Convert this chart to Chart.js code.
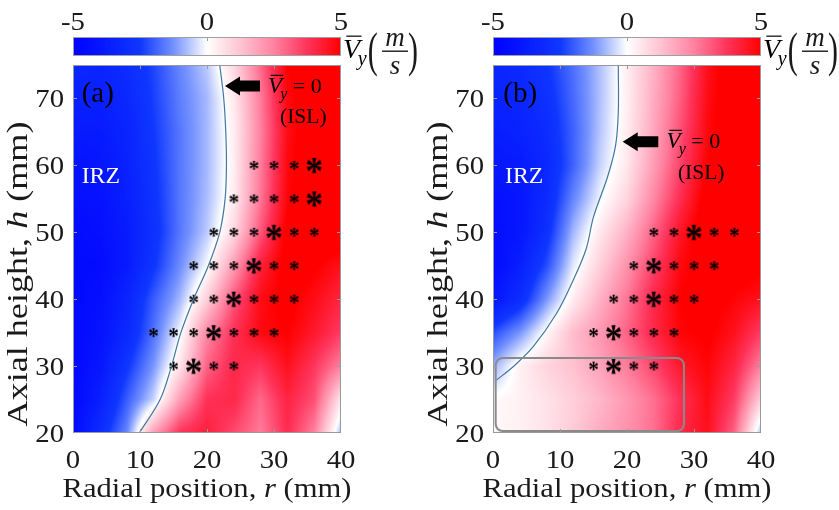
<!DOCTYPE html>
<html><head><meta charset="utf-8">
<script src="https://cdn.jsdelivr.net/npm/chart.js@4.4.1/dist/chart.umd.min.js"></script>
<style>
html,body{margin:0;padding:0;background:#fff;}
#wrap{position:relative;width:839px;height:510px;overflow:hidden;}
canvas{position:absolute;top:0;}
#ca{left:0}
#cb{left:420px}
</style></head><body>
<div id="wrap"><canvas id="ca" width="420" height="510"></canvas><canvas id="cb" width="419" height="510"></canvas></div>
<script>
// ---------- data ----------
const rGrid = [0,4,8,12,16,20,24,28,32,36,40];          // radial position r (mm)
const hGrid = [20,25,30,35,40,45,50,55,60,65,70,75];    // axial height h (mm)
// mean axial velocity Vy (m/s), rows follow hGrid, columns follow rGrid
const vyA = [
 [-4.5,-3.0,-1.4, 2.0, 3.8, 4.2, 3.4, 2.6, 3.9, 2.5,-0.8],
 [-4.6,-3.6,-2.0,-0.5, 2.0, 3.8, 4.0, 2.9, 4.1, 3.3, 0.5],
 [-4.6,-4.0,-2.6,-1.2, 0.6, 3.0, 4.0, 3.7, 4.6, 3.7, 2.5],
 [-4.6,-4.2,-3.2,-1.7,-0.05,2.4, 3.8, 4.8, 5.0, 4.4, 3.6],
 [-4.6,-4.3,-3.4,-2.0,-0.8, 1.0, 3.2, 4.7, 5.2, 4.7, 4.1],
 [-4.5,-4.5,-3.8,-2.6,-1.3,-0.05,2.0, 4.2, 5.3, 5.1, 4.6],
 [-4.5,-4.3,-3.8,-2.8,-1.6,-0.6, 0.8, 3.2, 5.2, 5.5, 5.5],
 [-4.3,-4.2,-3.6,-2.7,-1.6,-0.75,0.4, 2.7, 4.9, 5.5, 5.5],
 [-4.2,-4.0,-3.5,-2.6,-1.6,-0.8, 0.35,2.6, 4.8, 5.5, 5.5],
 [-3.8,-3.8,-3.4,-2.5,-1.6,-0.8, 0.35,2.5, 4.7, 5.5, 5.5],
 [-3.5,-3.6,-3.2,-2.4,-1.5,-0.8, 0.45,2.6, 4.8, 5.5, 5.5],
 [-3.2,-3.3,-3.0,-2.3,-1.4,-0.6, 0.8, 2.9, 5.0, 5.5, 5.5]
];
const vyB = [
 [ 0.15, 0.3, 0.6, 1.1, 1.7, 2.2, 2.8, 4.0, 4.6, 3.0,-0.8],
 [ 0.1, 0.3, 0.6, 1.0, 1.5, 2.1, 2.8, 3.8, 4.7, 3.6, 1.0],
 [-0.9, 0.3, 0.9, 1.3, 1.9, 2.6, 3.4, 4.4, 4.9, 4.1, 2.5],
 [-2.2,-1.2, 0.15,1.4, 2.1, 3.0, 4.0, 4.9, 5.1, 4.6, 3.6],
 [-4.0,-3.0,-1.2, 0.4, 1.6, 2.7, 4.0, 5.0, 5.3, 4.9, 4.6],
 [-4.5,-3.6,-2.2,-0.25,1.0, 2.2, 3.5, 4.8, 5.4, 5.4, 5.1],
 [-4.4,-4.0,-2.8,-0.8, 0.5, 1.6, 3.0, 4.5, 5.5, 5.5, 5.5],
 [-4.3,-4.0,-3.1,-1.4,-0.1, 0.9, 2.4, 3.9, 5.3, 5.5, 5.5],
 [-4.0,-3.8,-3.2,-1.9,-0.5, 0.5, 2.0, 3.5, 5.0, 5.5, 5.5],
 [-3.7,-3.5,-3.0,-1.9,-0.65,0.4, 1.8, 3.3, 4.8, 5.5, 5.5],
 [-3.5,-3.3,-2.8,-1.8,-0.7, 0.35,1.7, 3.1, 4.7, 5.5, 5.5],
 [-3.3,-3.1,-2.6,-1.7,-0.7, 0.35,1.6, 3.0, 4.6, 5.5, 5.5]
];
// ISL contour (Vy = 0)
const islA_r = [9.9,13,14.7,16.1,18,20.2,21.9,22.7,22.9,22.8,22.5,21.9];
const islA_h = [20,25,30,35,40,45,50,55,60,65,70,75];
const islB_r = [0.5,3,6,9.5,12,13.9,15,17.1,18.3,18.7,18.7];
const islB_h = [27.9,29.9,32.9,37.9,42.9,47.5,52.3,58.3,63,68,75];
// measurement points (asterisks)
const smallA_r = [27,30,33, 24,27,30,33, 21,24,27,33,36, 18,21,24,30,33, 18,21,27,30,33, 12,15,18,24,27,30, 15,21,24];
const smallA_h = [60,60,60, 55,55,55,55, 50,50,50,50,50, 45,45,45,45,45, 40,40,40,40,40, 35,35,35,35,35,35, 30,30,30];
const bigA_r = [36,36,30,27,24,21,18];
const bigA_h = [60,55,50,45,40,35,30];
const smallB_r = [24,27,33,36, 21,27,30,33, 18,21,27,30, 15,21,24,27, 15,21,24];
const smallB_h = [50,50,50,50, 45,45,45,45, 40,40,40,40, 35,35,35,35, 30,30,30];
const bigB_r = [30,24,24,18,18];
const bigB_h = [50,45,40,35,30];
// tick labels
const xTickVals = [0,10,20,30,40];
const yTickVals = [20,30,40,50,60,70];
const cbTickVals = [-5,0,5];
// colormap stops
const cmapV = [-5,-2.5,-1.25,0,1.25,2.5,3.75,5];
const cmapC = [[0,0,255],[15,55,255],[115,145,255],[255,255,255],[255,195,210],[255,130,160],[255,50,90],[255,0,0]];

// ---------- helpers ----------
const F = '"Liberation Serif","Times New Roman",serif';
function cmap(v){
  if(v<=cmapV[0]) return cmapC[0];
  if(v>=cmapV[cmapV.length-1]) return cmapC[cmapC.length-1];
  let i=0; while(v>cmapV[i+1]) i++;
  const t=(v-cmapV[i])/(cmapV[i+1]-cmapV[i]);
  const a=cmapC[i], b=cmapC[i+1];
  return [a[0]+(b[0]-a[0])*t, a[1]+(b[1]-a[1])*t, a[2]+(b[2]-a[2])*t];
}
function locate(arr,v){
  let i=0; while(i<arr.length-2 && v>arr[i+1]) i++;
  let t=(v-arr[i])/(arr[i+1]-arr[i]); t=Math.max(0,Math.min(1,t));
  return [i,t];
}
function interp(grid,r,h){
  const [i,tx]=locate(rGrid,r), [j,ty]=locate(hGrid,h);
  const a=grid[j][i]*(1-tx)+grid[j][i+1]*tx;
  const b=grid[j+1][i]*(1-tx)+grid[j+1][i+1]*tx;
  return a*(1-ty)+b*ty;
}
function drawSegs(ctx, parts, x, y, align, sx){
  ctx.save();
  let w=0; parts.forEach(p=>{ctx.font=p[1]; w+=ctx.measureText(p[0]).width;});
  ctx.translate(x,y); ctx.scale(sx||1,1);
  let x0 = align==='center' ? -w/2 : (align==='right' ? -w : 0);
  ctx.textAlign='left'; ctx.textBaseline='alphabetic';
  parts.forEach(p=>{ctx.font=p[1]; ctx.fillText(p[0],x0,0); x0+=ctx.measureText(p[0]).width;});
  ctx.restore();
  return w*(sx||1);
}
function fitScale(ctx, parts, target){
  let w=0; parts.forEach(p=>{ctx.font=p[1]; w+=ctx.measureText(p[0]).width;});
  return target/w;
}
function makeStar(w,h){
  const c=document.createElement('canvas'); c.width=Math.ceil(w)+4; c.height=Math.ceil(h)+4;
  const g=c.getContext('2d');
  g.font='bold 100px '+F;
  const m=g.measureText('*');
  const iw=m.actualBoundingBoxLeft+m.actualBoundingBoxRight;
  const ih=m.actualBoundingBoxAscent+m.actualBoundingBoxDescent;
  g.translate(2,2); g.scale(w/iw,h/ih);
  g.fillStyle='#000';
  g.fillText('*',m.actualBoundingBoxLeft,m.actualBoundingBoxAscent);
  return c;
}
const starSmall = makeStar(9,9);
const starBig = makeStar(15,15);

function vLabel(ctx,x,y,fs){
  ctx.save(); ctx.fillStyle='#000';
  ctx.font='italic '+fs+'px '+F;
  const wv=ctx.measureText('V').width;
  ctx.fillText('V',x,y);
  ctx.strokeStyle='#000'; ctx.lineWidth=1.2;
  ctx.beginPath(); ctx.moveTo(x+fs*0.12,y-fs*0.78); ctx.lineTo(x+wv+fs*0.05,y-fs*0.78); ctx.stroke();
  ctx.font='italic '+Math.round(fs*0.7)+'px '+F;
  const wy=ctx.measureText('y').width;
  ctx.fillText('y',x+wv-fs*0.08,y+fs*0.25);
  ctx.restore();
  return x+wv-fs*0.08+wy;
}

function panelPlugin(grid, ann){
  return {
    id:'panel',
    beforeDatasetsDraw(chart){
      const ctx=chart.ctx, a=chart.chartArea, xs=chart.scales.x, ys=chart.scales.y;
      const L=Math.round(a.left), T=Math.round(a.top), W=Math.round(a.right)-L, H=Math.round(a.bottom)-T;
      const off=document.createElement('canvas'); off.width=W; off.height=H;
      const g=off.getContext('2d'); const im=g.createImageData(W,H);
      for(let j=0;j<H;j++){
        const h=ys.getValueForPixel(T+j+0.5);
        for(let i=0;i<W;i++){
          const r=xs.getValueForPixel(L+i+0.5);
          const c=cmap(interp(grid,r,h)); const k=(j*W+i)*4;
          im.data[k]=c[0]; im.data[k+1]=c[1]; im.data[k+2]=c[2]; im.data[k+3]=255;
        }
      }
      g.putImageData(im,0,0); ctx.drawImage(off,L,T);
      // colorbar
      const cb=chart.scales.cb;
      const cL=Math.round(cb.getPixelForValue(-5)), cR=Math.round(cb.getPixelForValue(5));
      for(let x=cL;x<cR;x++){
        const c=cmap(cb.getValueForPixel(x+0.5));
        ctx.fillStyle='rgb('+c.map(Math.round).join(',')+')';
        ctx.fillRect(x,37,1,19);
      }
      ctx.strokeStyle='#a0a0a0'; ctx.lineWidth=1;
      ctx.strokeRect(cL+0.5,37.5,cR-cL-1,18);
      const z=Math.round(cb.getPixelForValue(0))+0.5;
      ctx.beginPath(); ctx.moveTo(z,38); ctx.lineTo(z,41); ctx.stroke();
    },
    afterDatasetsDraw(chart){
      const ctx=chart.ctx, a=chart.chartArea, xs=chart.scales.x, ys=chart.scales.y, cb=chart.scales.cb;
      const px=v=>xs.getPixelForValue(v), py=v=>ys.getPixelForValue(v);
      if(ann.box){
        const x1=px(ann.box.r[0]), x2=px(ann.box.r[1]), y1=py(ann.box.h[1]), y2=py(ann.box.h[0]);
        ctx.save(); ctx.strokeStyle='#8a8a8a'; ctx.lineWidth=2;
        ctx.beginPath(); ctx.roundRect(x1,y1,x2-x1,y2-y1,7); ctx.stroke(); ctx.restore();
      }
      // frame
      ctx.save();
      ctx.strokeStyle='#9a9a9a'; ctx.lineWidth=1;
      ctx.strokeRect(Math.round(a.left)+0.5,Math.round(a.top)+0.5,Math.round(a.right-a.left)-1,Math.round(a.bottom-a.top)-1);
      ctx.beginPath();
      xTickVals.forEach(v=>{ if(v===xs.min||v===xs.max) return; const x=Math.round(px(v))+0.5;
        ctx.moveTo(x,a.bottom); ctx.lineTo(x,a.bottom-4); ctx.moveTo(x,a.top); ctx.lineTo(x,a.top+4); });
      yTickVals.forEach(v=>{ if(v===ys.min||v===ys.max) return; const y=Math.round(py(v))+0.5;
        ctx.moveTo(a.left,y); ctx.lineTo(a.left+4,y); ctx.moveTo(a.right,y); ctx.lineTo(a.right-4,y); });
      ctx.stroke();
      ctx.restore();
      // tick labels
      ctx.save(); ctx.fillStyle='#1a1a1a';
      const tf='25px '+F;
      xTickVals.forEach(v=>drawSegs(ctx,[[String(v),tf]],px(v),468,'center',1.15));
      yTickVals.forEach(v=>drawSegs(ctx,[[String(v),tf]],a.left-9,py(v)+8.5,'right',1.15));
      cbTickVals.forEach(v=>drawSegs(ctx,[[String(v),tf]],cb.getPixelForValue(v),30,'center',1.15));
      // axis titles
      const xf='27px '+F;
      const xt=[['Radial position, ',xf],['r','italic 27px '+F],[' (mm)',xf]];
      drawSegs(ctx,xt,(a.left+a.right)/2,497,'center',fitScale(ctx,xt,289));
      const yf='29px '+F;
      const yt=[['Axial height, ',yf],['h','italic 29px '+F],[' (mm)',yf]];
      ctx.save(); ctx.translate(27,274); ctx.rotate(-Math.PI/2);
      drawSegs(ctx,yt,0,0,'center',fitScale(ctx,yt,305)); ctx.restore();
      // colorbar label
      const lx=cb.right+2;
      const ex=vLabel(ctx,lx,58,28);
      ctx.save(); ctx.font='30px '+F; ctx.translate(ex+1,54.5); ctx.scale(1,1.6); ctx.fillText('(',0,7); ctx.restore();
      ctx.font='italic 27px '+F; ctx.textAlign='center';
      ctx.fillText('m',lx+52,46); ctx.fillText('s',lx+52,74);
      ctx.fillRect(lx+39,50.5,26,1.4);
      ctx.textAlign='left';
      ctx.save(); ctx.font='30px '+F; ctx.translate(lx+65,54.5); ctx.scale(1,1.6); ctx.fillText(')',0,7); ctx.restore();
      ctx.restore();
      // annotations
      ctx.save();
      ctx.fillStyle='#000';
      drawSegs(ctx,[[ann.label,'29px '+F]],px(ann.labelPos[0]),py(ann.labelPos[1]),'left',1);
      ctx.fillStyle='#fff';
      drawSegs(ctx,[['IRZ','23px '+F]],px(ann.irzPos[0]),py(ann.irzPos[1]),'left',1.03);
      ctx.fillStyle='#000';
      const tx=px(ann.arrow.tip[0]), ty=py(ann.arrow.tip[1]), tl=px(ann.arrow.tail[0]);
      ctx.beginPath();
      ctx.moveTo(tx,ty); ctx.lineTo(tx+15,ty-9.5); ctx.lineTo(tx+15,ty-5.5); ctx.lineTo(tl,ty-5.5);
      ctx.lineTo(tl,ty+5.5); ctx.lineTo(tx+15,ty+5.5); ctx.lineTo(tx+15,ty+9.5); ctx.closePath(); ctx.fill();
      const vx=px(ann.vPos[0]), vy=py(ann.vPos[1]);
      const e=vLabel(ctx,vx,vy,23);
      drawSegs(ctx,[[' = 0','22px '+F]],e,vy,'left',1);
      drawSegs(ctx,[['(ISL)','21.5px '+F]],px(ann.islPos[0]),py(ann.islPos[1]),'left',1);
      ctx.restore();
    }
  };
}

function pts(rs,hs){ return rs.map((r,i)=>({x:r,y:hs[i]})); }

function makeChart(id, grid, islR, islH, sR, sH, bR, bH, ann, padRight){
  return new Chart(document.getElementById(id), {
    type:'scatter',
    data:{datasets:[
      {data:pts(islR,islH), showLine:true, borderColor:'#3f78a3', borderWidth:1.2, pointRadius:0, tension:0.35, fill:false},
      {data:pts(sR,sH), pointStyle:starSmall, pointRadius:5},
      {data:pts(bR,bH), pointStyle:starBig, pointRadius:8}
    ]},
    options:{
      responsive:false, animation:false, devicePixelRatio:1,
      layout:{padding:{left:0,right:padRight,top:0,bottom:0}},
      plugins:{legend:{display:false}, tooltip:{enabled:false}},
      scales:{
        x:{type:'linear',position:'bottom',min:0,max:40,display:true,
           ticks:{stepSize:10,display:false,includeBounds:false},grid:{display:false},border:{display:false},
           afterFit(s){s.height=77;}},
        y:{type:'linear',position:'left',min:20,max:75,display:true,
           ticks:{stepSize:10,display:false,includeBounds:false},grid:{display:false},border:{display:false},
           afterFit(s){s.width=73;}},
        cb:{type:'linear',axis:'x',position:'top',min:-5,max:5,display:true,
           ticks:{stepSize:5,display:false},grid:{display:false},border:{display:false},
           afterFit(s){s.height=65;}}
      }
    },
    plugins:[panelPlugin(grid, ann)]
  });
}

makeChart('ca', vyA, islA_r, islA_h, smallA_r, smallA_h, bigA_r, bigA_h, {
  label:'(a)', labelPos:[1.3,69.5], irzPos:[1.3,57.3],
  arrow:{tip:[22.69,71.86], tail:[27.9,71.86]},
  vPos:[29.1,70.77], islPos:[30.9,66.33]
}, 79);
makeChart('cb', vyB, islB_r, islB_h, smallB_r, smallB_h, bigB_r, bigB_h, {
  label:'(b)', labelPos:[1.54,69.5], irzPos:[1.8,57.3],
  arrow:{tip:[19.36,63.54], tail:[24.67,63.54]},
  vPos:[25.9,62.55], islPos:[27.6,57.92],
  box:{r:[0.4,28.5], h:[20.3,31.2]}
}, 78);
</script>
</body></html>
